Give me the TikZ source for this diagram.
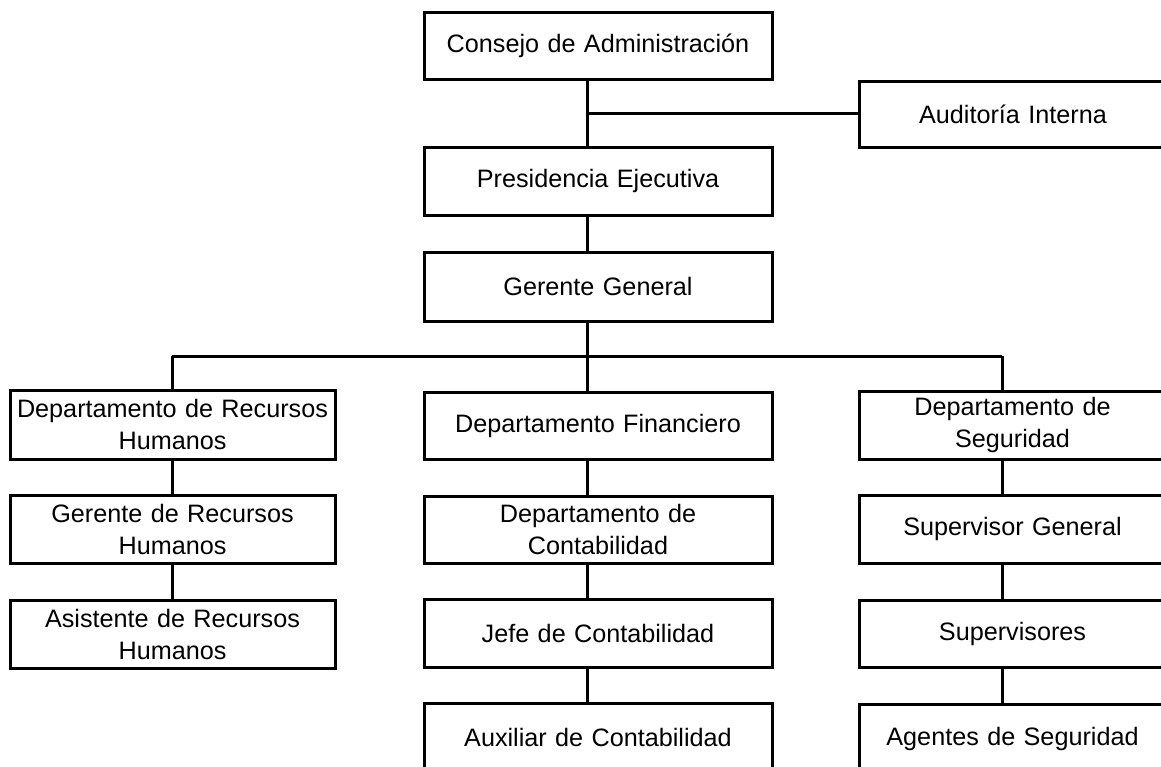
\documentclass[tikz,border=0pt]{standalone}
\usepackage{fontspec}
\setmainfont{Liberation Sans}
\begin{document}
\begin{tikzpicture}[x=1pt,y=-1pt,
  orgbox/.style={draw=black, line width=3pt, rectangle, inner sep=0pt,
    align=center, font=\fontsize{25.2}{32}\selectfont, fill=white},
  midbox/.style={orgbox, minimum width=348pt, minimum height=67pt, text width=340pt},
  leftbox/.style={orgbox, minimum width=325pt, minimum height=68pt, text width=318pt},
  rightbox/.style={orgbox, minimum width=307pt, minimum height=67pt, text width=300pt},
  link/.style={draw=black, line width=3pt}]
\useasboundingbox (0,0) rectangle (1161,766);
\clip (0,0) rectangle (1161,766);
\fill[white] (0,0) rectangle (1161,766);

% spines
\coordinate (sp) at (587,0);
\coordinate (sl) at (172,0);
\coordinate (sr) at (1002,0);
\coordinate (j1) at (587,113);
\coordinate (bus) at (0,356);

% top chain
\node[midbox] (cons) at (598,45.5) {Consejo de Administraci\'on};
\node[rightbox, minimum height=66pt] (aud) at (1013,114) {Auditor\'ia Interna};
\node[midbox, minimum height=68pt] (pres) at (598,181) {Presidencia Ejecutiva};
\node[midbox, minimum height=69pt] (gg) at (598,286.5) {Gerente General};

% left column
\node[leftbox, minimum height=69pt] (rh1) at (172.5,424.5) {Departamento de Recursos\\Humanos};
\node[leftbox] (rh2) at (172.5,529) {Gerente de Recursos\\Humanos};
\node[leftbox] (rh3) at (172.5,634) {Asistente de Recursos\\Humanos};

% middle column
\node[midbox] (fin) at (598,425.5) {Departamento Financiero};
\node[midbox] (cont) at (598,529.5) {Departamento de\\Contabilidad};
\node[midbox, minimum height=68pt] (jefe) at (598,633) {Jefe de Contabilidad};
\node[midbox, minimum height=68pt, anchor=north] (aux) at (598,702) {Auxiliar de Contabilidad};

% right column
\node[rightbox, minimum height=68pt] (seg) at (1012.5,425) {Departamento de\\Seguridad};
\node[rightbox, minimum height=68pt] (sg) at (1012.5,529) {Supervisor General};
\node[rightbox] (sup) at (1012.5,633.5) {Supervisores};
\node[rightbox, minimum height=68pt, anchor=north] (ag) at (1012.5,703) {Agentes de Seguridad};

% connectors
\draw[link] (cons.south -| sp) -- (pres.north -| sp);
\draw[link] (j1) -- (j1 -| aud.west);
\draw[link] (pres.south -| sp) -- (gg.north -| sp);
\draw[link] (gg.south -| sp) -- (bus -| sp);
\draw[link] (bus -| sl) -- (bus -| sr);
\draw[link] (bus -| sl) -- (rh1.north -| sl);
\draw[link] (bus -| sp) -- (fin.north -| sp);
\draw[link] (bus -| sr) -- (seg.north -| sr);
\draw[link] (rh1.south -| sl) -- (rh2.north -| sl);
\draw[link] (rh2.south -| sl) -- (rh3.north -| sl);
\draw[link] (fin.south -| sp) -- (cont.north -| sp);
\draw[link] (cont.south -| sp) -- (jefe.north -| sp);
\draw[link] (jefe.south -| sp) -- (aux.north -| sp);
\draw[link] (seg.south -| sr) -- (sg.north -| sr);
\draw[link] (sg.south -| sr) -- (sup.north -| sr);
\draw[link] (sup.south -| sr) -- (ag.north -| sr);
\end{tikzpicture}
\end{document}
